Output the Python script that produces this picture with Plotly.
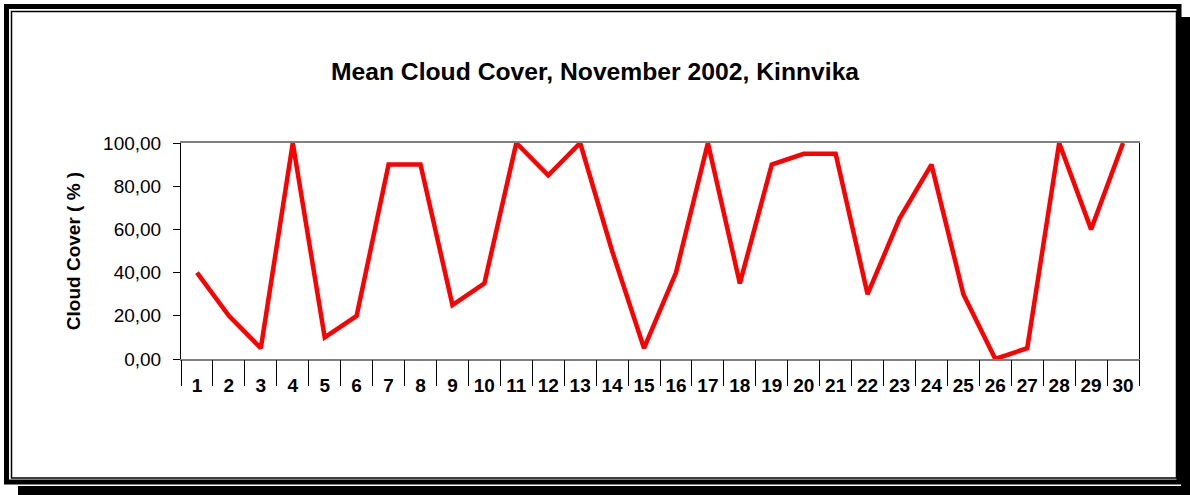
import plotly.graph_objects as go

# Mean cloud cover per day, November 2002, Kinnvika
dias = [str(d) for d in range(1, 31)]
nubosidad = [40, 20, 5, 100, 10, 20, 90, 90, 25, 35,
             100, 85, 100, 50, 5, 40, 100, 35, 90, 95,
             95, 30, 65, 90, 30, 0, 5, 100, 60, 100]
y_ticks = [0, 20, 40, 60, 80, 100]

W, H = 1190, 495
L, R, T, B = 181, 1139, 143, 359  # plot area in px


def px_x(p):
    return (p - L) / (R - L)


def px_y(p):
    return (B - p) / (B - T)


def rect(x0, y0, x1, y1, **kw):
    return dict(type="rect", xref="paper", yref="paper",
                x0=px_x(x0), x1=px_x(x1), y0=px_y(y1), y1=px_y(y0),
                layer="above", **kw)


n = len(dias)
bordes = [i - 0.5 for i in range(n + 1)]

fig = go.Figure()
fig.add_trace(go.Scatter(x=dias, y=nubosidad, mode="lines",
                         line=dict(color="#ff0000", width=4.5)))
# empty trace so the overlay axis (category boundary ticks) gets drawn
fig.add_trace(go.Scatter(x=[], y=[], xaxis="x2", yaxis="y",
                         hoverinfo="skip"))

fig.update_layout(
    width=W, height=H,
    margin=dict(l=L, r=W - R, t=T, b=H - B),
    paper_bgcolor="white", plot_bgcolor="white",
    separators=",.",
    showlegend=False,
    font=dict(family="Liberation Sans, Arial", color="black"),
    title=dict(text="<b>Mean Cloud Cover, November 2002, Kinnvika</b>",
               x=0.5, xref="container", y=1 - 71 / H, yref="container",
               xanchor="center", yanchor="middle",
               font=dict(size=24.7, color="black")),
    xaxis=dict(type="category", range=[-0.5, n - 0.5], ticks="",
               showline=True, linecolor="#808080", linewidth=2,
               mirror=True, showgrid=False,
               tickfont=dict(size=19, color="black", weight="bold"),
               ticklabelstandoff=8),
    xaxis2=dict(overlaying="x", anchor="y", side="bottom",
                range=[-0.5, n - 0.5], tickvals=bordes,
                ticks="outside", ticklen=26, tickcolor="black",
                showticklabels=False, showline=False, showgrid=False,
                zeroline=False),
    yaxis=dict(range=[0, 100], tickvals=y_ticks, tickformat=".2f",
               ticks="outside", ticklen=7, tickcolor="black",
               showline=True, linecolor="black", linewidth=1,
               mirror=True, showgrid=False, zeroline=False,
               tickfont=dict(size=19, color="black"),
               ticklabelstandoff=8,
               title=dict(text="<b>Cloud Cover ( % )</b>",
                          font=dict(size=19, color="black"), standoff=17)),
    shapes=[
        rect(1181, 17, 1190, 495, fillcolor="black", line=dict(width=0)),
        rect(18, 486, 1190, 495, fillcolor="black", line=dict(width=0)),
        rect(6.5, 6.5, 1179, 482, line=dict(color="black", width=5)),
        rect(11.5, 11.5, 1176.5, 478, line=dict(color="black", width=1.5)),
    ],
)

fig.write_html("out.html", config={"displayModeBar": False},
               post_script="document.body.style.margin='0px';")
